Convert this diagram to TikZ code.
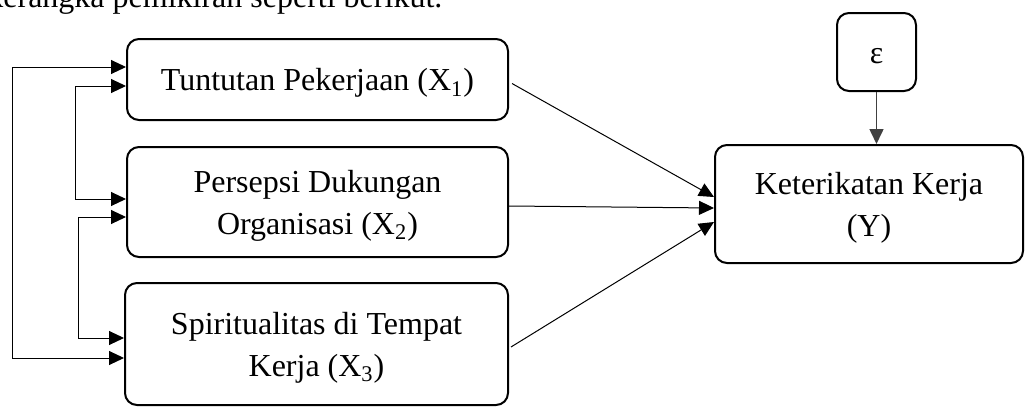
\documentclass[tikz,border=0pt]{standalone}
\usepackage{fontspec}
\setmainfont{Liberation Serif}
\usetikzlibrary{arrows.meta,calc}
\newcommand\boxtext[1]{\raisebox{-1.5pt}[\height][\depth]{\begin{tabular}{@{}c@{}}#1\end{tabular}}}
\begin{document}
\begin{tikzpicture}[x=0.5pt,y=-0.5pt,
  txt/.style={font=\fontsize{16}{21}\selectfont},
  box/.style={draw, line width=1pt, rounded corners=6pt, align=center, inner sep=0pt, txt},
  tip/.style={-{Triangle[length=7.5pt,width=7pt]}},
  conn/.style={line width=0.5pt, tip},
  bconn/.style={line width=0.5pt, {Triangle[length=7.5pt,width=7pt]}-{Triangle[length=7.5pt,width=7pt]}},
  econn/.style={line width=0.8pt, draw=black!75, tip}]
\clip (0,0) rectangle (1025,407);
% intro text (cut by the top edge)
\node[txt, anchor=base west, inner sep=0pt] (intro) at (-13,7) {kerangka pemikiran seperti berikut.};
% boxes
\node[box, minimum width=190.5pt, minimum height=40.5pt] (b1) at (317.5,79.5) {\boxtext{Tuntutan Pekerjaan (X\textsubscript{1})}};
\node[box, minimum width=190.5pt, minimum height=55pt] (b2) at (317.5,202) {\boxtext{Persepsi Dukungan\\Organisasi (X\textsubscript{2})}};
\node[box, minimum width=191.5pt, minimum height=61pt] (b3) at (316.5,344) {\boxtext{Spiritualitas di Tempat\\Kerja (X\textsubscript{3})}};
\node[box, minimum width=154pt, minimum height=59pt] (y) at (869,204) {\boxtext{Keterikatan Kerja\\(Y)}};
\node[box, minimum width=39.5pt, minimum height=39pt] (e) at (876.5,52) {\boxtext{ε}};
% left feedback lines
\coordinate (o1) at (12,0);
\coordinate (o2) at (75,0);
\coordinate (o3) at (78,0);
\coordinate (a1s) at ($(b1.west)+(0,-12.5)$);
\coordinate (a1e) at ($(b3.west)+(0,14)$);
\coordinate (a2s) at ($(b1.west)+(0,6.5)$);
\coordinate (a2e) at ($(b2.west)+(0,-3)$);
\coordinate (a3s) at ($(b2.west)+(0,15)$);
\coordinate (a3e) at ($(b3.west)+(0,-6)$);
\draw[bconn] (a1s) -- (a1s -| o1) -- (a1e -| o1) -- (a1e);
\draw[bconn] (a2s) -- (a2s -| o2) -- (a2e -| o2) -- (a2e);
\draw[bconn] (a3s) -- (a3s -| o3) -- (a3e -| o3) -- (a3e);
% arrows into Y
\draw[conn] ($(b1.east)+(3,4)$) -- ($(y.west)+(0,-7)$);
\draw[conn] ($(b2.east)+(0,4)$) -- ($(y.west)+(0,4)$);
\draw[conn] ($(b3.east)+(2,3)$) -- ($(y.west)+(0,18)$);
% epsilon arrow
\draw[econn] (e.south) -- (e.south |- y.north);
\end{tikzpicture}
\end{document}
